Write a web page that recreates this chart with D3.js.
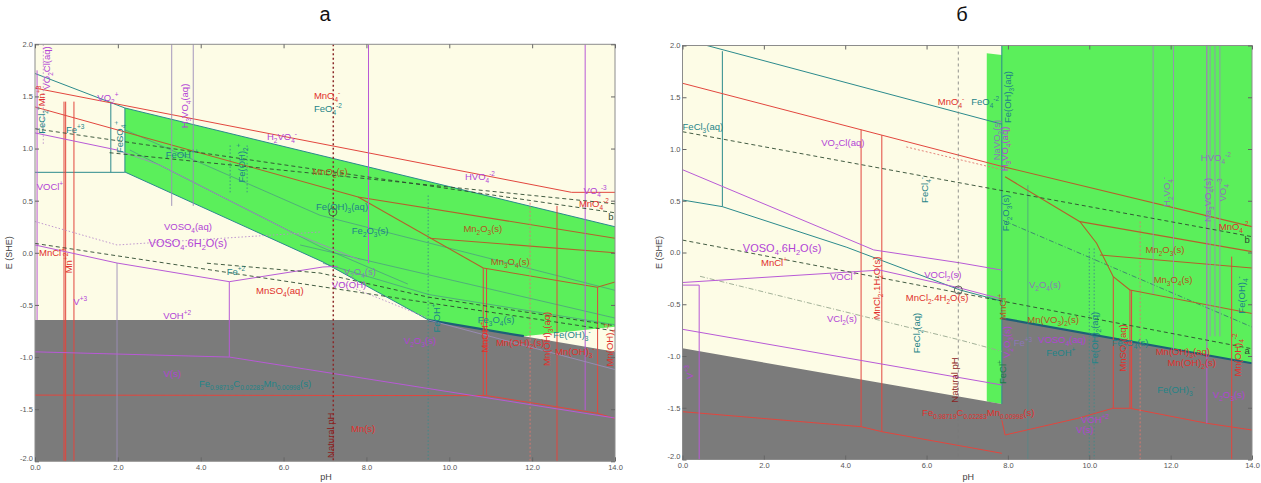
<!DOCTYPE html>
<html><head><meta charset="utf-8">
<script src="https://cdn.jsdelivr.net/npm/d3@7"></script>
<style>
body{margin:0;background:#fff}
svg text{font-family:"Liberation Sans",Arial,sans-serif}
</style>
</head><body>
<svg id="chart" width="1261" height="483"></svg>
<script>
// ---- axes ----
const phTicks = [0, 2, 4, 6, 8, 10, 12, 14];
const eTicks = [2, 1.5, 1, 0.5, 0, -0.5, -1, -1.5, -2];
const panelTitles = ["а", "б"];
const axisNames = {x: "pH", y: "E (SHE)"};

// ---- panel а : stability fields (pH, E) ----
const fieldsA = [
  {kind: "green", pts: [[2.17,1.389],[14,0.25],[14,-0.71],[11.8,-0.80],[9.5,-0.645],[6.95,-0.088],[2.17,0.775]]},
  {kind: "gray",  pts: [[0,-0.645],[9.5,-0.645],[11.8,-0.80],[14,-0.95],[14,-2],[0,-2]]}
];
const linesA = [
  {s:"Fe", p:[[0,1.72],[2.17,1.389],[14,0.25]]},
  {s:"Fe", p:[[0,0.772],[2.17,0.772]]},
  {s:"Fe", p:[[1.83,1.45],[1.83,0.772]]},
  {s:"Fe", p:[[2.17,1.389],[2.17,0.775]]},
  {s:"Fe", p:[[2.17,0.775],[6.95,-0.088],[9.5,-0.645]]},
  {s:"Feg", p:[[6.4,0.075],[14,-0.626]]},
  {s:"Feg", p:[[6.95,-0.10],[9.5,-0.40],[14,-0.69]]},
  {s:"Feg", p:[[2.17,1.18],[6.88,0.36],[14,-0.36]]},
  {s:"Feg", p:[[2.29,0.986],[6.88,0.06],[9.0,-0.30]]},
  {s:"bound", p:[[9.5,-0.645],[11.8,-0.80]]},
  {s:"Fed", p:[[4.71,1.03],[4.71,0.58]]},
  {s:"Fed", p:[[5.12,1.03],[5.12,0.58]]},
  {s:"Fed", p:[[9.49,0.55],[9.49,-2]]},
  {s:"Mn", p:[[0,1.58],[12.95,0.58],[14,0.58]]},
  {s:"Mn", p:[[0,1.399],[2.17,1.159]]},
  {s:"MnOx", p:[[2.17,1.159],[7.8,0.535],[14,0.14]]},
  {s:"MnOx", p:[[7.8,0.535],[10.82,-0.146]]},
  {s:"MnOx", p:[[10.82,-0.146],[13.57,-0.33],[14,-0.28]]},
  {s:"MnOx", p:[[9.53,0.14],[14,0.0]]},
  {s:"Mn", p:[[10.82,-0.146],[10.82,-1.37]]},
  {s:"Mn", p:[[10.9,-0.15],[10.9,-1.37]]},
  {s:"Mn", p:[[0,-1.365],[10.9,-1.37],[13.58,-1.54],[14,-1.59]]},
  {s:"Mn", p:[[0.70,1.45],[0.70,-2]]},
  {s:"Mn", p:[[0.74,1.45],[0.74,-2]]},
  {s:"Mn", p:[[0.94,1.45],[0.94,-2]]},
  {s:"Mnd", p:[[11.95,0.48],[11.95,-2]]},
  {s:"Mn", p:[[12.6,0.45],[12.6,-2]]},
  {s:"Mn", p:[[13.58,-0.33],[13.58,-1.54]]},
  {s:"V", p:[[0.05,1.75],[0.05,-0.645]]},
  {s:"Vd", p:[[0.2,2],[0.2,1.03]]},
  {s:"V", p:[[0,1.15],[1.98,0.986]]},
  {s:"Vg", p:[[1.98,0.986],[3.02,0.84],[6.23,0.19],[7.85,-0.07]]},
  {s:"Vg", p:[[3.3,2],[3.3,0.45]]},
  {s:"Vg", p:[[3.82,2],[3.82,0.45]]},
  {s:"V", p:[[8.05,2],[8.05,-0.1]]},
  {s:"V", p:[[13.28,2],[13.28,-1.51]]},
  {s:"V", p:[[0,0.075],[1.98,-0.098],[4.69,-0.277],[6.95,-0.136],[7.3,-0.13]]},
  {s:"Vg", p:[[1.98,-0.098],[1.98,-2]]},
  {s:"V", p:[[4.69,-0.277],[4.69,-1.0]]},
  {s:"V", p:[[0,-0.95],[4.69,-1.0],[14,-1.585]]},
  {s:"Vd", p:[[0,0.30],[1.98,0.075],[6.9,0.2]]},
  {s:"Vg", p:[[9.5,-0.645],[14,-1.12]]},
  {s:"Vd", p:[[7.2,-0.26],[9.45,-0.62]]},
  {s:"water", p:[[0,1.19],[14,0.384]]},
  {s:"water", p:[[1.8,0.96],[14,0.47]]},
  {s:"water", p:[[0,0.09],[14,-0.75]]},
  {s:"water", p:[[4.15,-0.10],[6.88,-0.194],[9.49,-0.425],[14,-0.70]]},
  {s:"nat", p:[[7.2,2],[7.2,-2]]}
];
const labelsA = [
  {t:"MnO_{4}^{-}", s:"Mn", x:7.05, y:1.504},
  {t:"FeO_{4}^{-2}", s:"Fe", x:7.07, y:1.379},
  {t:"VO_{2}^{+}", s:"V", x:1.76, y:1.485},
  {t:"H_{3}VO_{4}(aq)", s:"V", x:3.62, y:1.408, r:1},
  {t:"VO_{2}Cl(aq)", s:"V", x:0.29, y:1.773, r:1},
  {t:"Mn^{+3}", s:"Mn", x:0.17, y:1.504, r:1},
  {t:"FeCl_{2}^{+}", s:"Fe", x:0.17, y:1.273, r:1},
  {t:"Fe^{+3}", s:"Fe", x:0.97, y:1.178},
  {t:"FeSO_{4}^{+}", s:"Fe", x:2.05, y:1.111, r:1},
  {t:"FeOH^{++}", s:"Fe", x:3.55, y:0.938},
  {t:"Fe(OH)_{2}^{+}", s:"Fe", x:5.0, y:0.861, r:1},
  {t:"H_{2}VO_{4}^{-}", s:"V", x:5.96, y:1.111},
  {t:"MnO_{2}(s)", s:"MnOx", x:7.12, y:0.775},
  {t:"Fe(OH)_{3}(aq)", s:"Fe", x:7.41, y:0.44},
  {t:"Fe_{2}O_{3}(s)", s:"Fe", x:8.09, y:0.209},
  {t:"Mn_{2}O_{3}(s)", s:"MnOx", x:10.81, y:0.228},
  {t:"HVO_{4}^{-2}", s:"V", x:10.74, y:0.727},
  {t:"VO_{4}^{-3}", s:"V", x:13.52, y:0.593},
  {t:"MnO_{4}^{-2}", s:"Mn", x:13.49, y:0.468},
  {t:"b", s:"water", x:13.9, y:0.35},
  {t:"Mn_{3}O_{4}(s)", s:"MnOx", x:11.47, y:-0.088},
  {t:"V_{2}O_{4}(s)", s:"Vg", x:7.84, y:-0.184},
  {t:"VO(OH)", s:"V", x:7.58, y:-0.309},
  {t:"Fe^{+2}", s:"Fe", x:4.85, y:-0.184},
  {t:"MnSO_{4}(aq)", s:"Mn", x:5.91, y:-0.366},
  {t:"VOSO_{4}(aq)", s:"V", x:3.69, y:0.247},
  {t:"VOSO_{4}.6H_{2}O(s)", s:"V", x:3.69, y:0.094},
  {t:"VOCl^{+}", s:"V", x:0.36, y:0.631},
  {t:"MnCl^{+}", s:"Mn", x:0.41, y:-0.002},
  {t:"Mn^{+2}", s:"Mn", x:0.82, y:-0.098, r:1},
  {t:"V^{+3}", s:"V", x:1.09, y:-0.47},
  {t:"VOH^{+2}", s:"V", x:3.43, y:-0.606},
  {t:"V(s)", s:"V", x:3.31, y:-1.16},
  {t:"Fe_{0.98719}C_{0.02283}Mn_{0.00998}(s)", s:"Fe", x:5.31, y:-1.257},
  {t:"Mn(s)", s:"Mn", x:7.92, y:-1.69},
  {t:"Natural pH", s:"nat", x:7.13, y:-1.75, r:1},
  {t:"FeOH^{+}", s:"Fe", x:9.70, y:-0.625, r:1},
  {t:"V_{2}O_{3}(s)", s:"V", x:9.29, y:-0.846},
  {t:"Fe_{3}O_{4}(s)", s:"Fe", x:11.13, y:-0.644},
  {t:"Mn(OH)_{2}(s)", s:"Mn", x:11.71, y:-0.864},
  {t:"MnOH^{+}", s:"Mn", x:10.86, y:-0.81, r:1},
  {t:"Mn(OH)_{3}(aq)", s:"Mn", x:12.36, y:-0.826, r:1},
  {t:"Fe(OH)_{3}^{-}", s:"Fe", x:12.96, y:-0.787},
  {t:"Mn(OH)_{3}^{-}", s:"Mn", x:13.03, y:-0.95},
  {t:"Mn(OH)_{4}^{-2}", s:"Mn", x:13.88, y:-0.883, r:1}
];
const markA = [[7.19, 0.391]];

// ---- panel б ----
const fieldsB = [
  {kind: "green", pts: [[7.48,1.925],[7.85,1.908],[7.85,2],[14,2],[14,-1.07],[7.85,-0.636],[7.85,-1.464],[7.48,-1.44]]},
  {kind: "gray",  pts: [[0,-0.926],[7.85,-1.464],[7.85,-0.636],[14,-1.07],[14,-2],[0,-2]]}
];
const linesB = [
  {s:"Fe", p:[[0.6,2],[7.85,1.24]]},
  {s:"Fe", p:[[0.98,1.945],[0.98,0.443]]},
  {s:"Fe", p:[[0,0.507],[0.98,0.443],[4.04,0.05],[6.82,-0.362],[7.85,-0.47]]},
  {s:"Fe", p:[[7.85,2],[7.85,-1.464]]},
  {s:"bound", p:[[7.85,-0.636],[14,-1.07]]},
  {s:"Fedd", p:[[7.88,0.31],[14,-0.72]]},
  {s:"Fed", p:[[10.0,0.04],[10.0,-2]]},
  {s:"Fed", p:[[10.12,0.04],[10.12,-2]]},
  {s:"Gdd", p:[[0.43,-0.23],[6.82,-0.845],[7.85,-0.955]]},
  {s:"Feg", p:[[8.49,0.65],[8.49,-2]]},
  {s:"Mn", p:[[0,1.635],[7.85,0.832]]},
  {s:"MnOx", p:[[7.85,0.832],[14,0.25]]},
  {s:"Mnd", p:[[5.5,1.02],[7.85,0.80]]},
  {s:"Mn", p:[[4.39,1.186],[4.39,-1.683]]},
  {s:"Mn", p:[[4.9,1.134],[4.9,-1.731]]},
  {s:"Mn", p:[[0,-1.538],[4.39,-1.683],[4.9,-1.731],[7.85,-1.94]]},
  {s:"Mn", p:[[7.85,-1.62],[7.93,-1.763],[9.72,-1.602],[10.58,-1.505],[11.0,-1.505],[12.89,-1.65],[14,-1.715]]},
  {s:"Mn", p:[[10.59,-0.234],[10.59,-1.505]]},
  {s:"Mn", p:[[11.0,-0.362],[11.0,-1.505]]},
  {s:"Mn", p:[[11.04,-0.365],[11.04,-1.505]]},
  {s:"Mn", p:[[13.5,-0.04],[13.5,-2]]},
  {s:"Mnd", p:[[11.25,0.3],[11.25,-2]]},
  {s:"MnOx", p:[[7.93,0.732],[9.77,0.298],[10.18,0.089],[10.59,-0.234],[11.0,-0.362]]},
  {s:"MnOx", p:[[11.0,-0.362],[14,-0.59]]},
  {s:"MnOx", p:[[9.77,0.298],[14,0.008]]},
  {s:"MnOx", p:[[10.26,-0.024],[14,-0.15]]},
  {s:"V", p:[[0,0.80],[4.7,0.025],[6.82,-0.10],[7.85,-0.17]]},
  {s:"V", p:[[0,-0.29],[4.85,-0.17],[6.82,-0.343],[7.85,-0.45]]},
  {s:"V", p:[[0,-0.742],[7.85,-1.28]]},
  {s:"V", p:[[0,-0.315],[0.41,-0.315],[0.41,-2]]},
  {s:"Vg", p:[[11.57,2],[11.57,-0.4]]},
  {s:"Vg", p:[[12.07,2],[12.07,-0.95]]},
  {s:"V",  p:[[12.89,2],[12.89,-1.65]]},
  {s:"Vg", p:[[12.97,2],[12.97,-0.81]]},
  {s:"Vg", p:[[13.09,2],[13.09,-0.81]]},
  {s:"Vg", p:[[13.21,2],[13.21,-0.81]]},
  {s:"water", p:[[0,1.167],[14,0.153]]},
  {s:"water", p:[[0,0.12],[14,-0.93]]},
  {s:"natB", p:[[6.78,2],[6.78,-2]]}
];
const labelsB = [
  {t:"FeCl_{3}(aq)", s:"Fe", x:0.5, y:1.213},
  {t:"VO_{2}Cl(aq)", s:"V", x:3.94, y:1.058},
  {t:"FeCl_{4}^{-}", s:"Fe", x:5.96, y:0.604, r:1},
  {t:"MnO_{4}^{-}", s:"Mn", x:6.6, y:1.454},
  {t:"FeO_{4}^{-2}", s:"Fe", x:7.44, y:1.454},
  {t:"Fe(OH)_{3}(aq)", s:"Fe", x:8.0, y:1.502, r:1},
  {t:"NaVO_{3}(s)", s:"Vg", x:7.73, y:1.087, r:1},
  {t:"H_{3}VO_{4}(aq)", s:"V", x:7.92, y:1.0, r:1},
  {t:"Fe_{2}O_{3}(s)", s:"Fe", x:7.95, y:0.382, r:1},
  {t:"H_{2}VO_{4}^{-}", s:"Vg", x:11.91, y:0.585, r:1},
  {t:"HVO_{4}^{-2}", s:"Vg", x:13.11, y:0.913},
  {t:"Na_{3}VO_{4}(s)", s:"Vg", x:12.92, y:0.507, r:1},
  {t:"VO_{4}^{-3}", s:"Vg", x:13.29, y:0.604, r:1},
  {t:"MnO_{4}^{-2}", s:"Mn", x:13.55, y:0.246},
  {t:"b", s:"water", x:13.88, y:0.12},
  {t:"a", s:"water", x:13.88, y:-0.95},
  {t:"V_{2}O_{4}(s)", s:"Vg", x:8.91, y:-0.314},
  {t:"Mn_{2}O_{3}(s)", s:"MnOx", x:11.86, y:0.024},
  {t:"Mn_{3}O_{4}(s)", s:"MnOx", x:12.06, y:-0.266},
  {t:"Mn(VO_{3})_{2}(s)", s:"MnOx", x:9.11, y:-0.652},
  {t:"MnCl^{+}", s:"MnOx", x:7.88, y:-0.527, r:1},
  {t:"V_{2}O_{3}(s)", s:"V", x:7.98, y:-0.865, r:1},
  {t:"FeCl^{+}", s:"FeG", x:7.88, y:-1.155, r:1},
  {t:"Fe^{+3}", s:"Vg", x:8.37, y:-0.874},
  {t:"VOSO_{4}(aq)", s:"V", x:9.33, y:-0.845},
  {t:"FeOH^{+}", s:"Fe", x:9.3, y:-0.97},
  {t:"Fe(OH)_{2}(aq)", s:"Fe", x:10.14, y:-0.826, r:1},
  {t:"Fe_{3}O_{4}(s)", s:"Fe", x:11.0, y:-0.874},
  {t:"MnSO_{4}(aq)", s:"Mn", x:10.83, y:-0.923, r:1},
  {t:"Mn(OH)_{3}(aq)", s:"Mn", x:12.3, y:-0.961},
  {t:"Mn(OH)_{2}(s)", s:"Mn", x:12.52, y:-1.068},
  {t:"Mn(OH)_{4}^{-2}", s:"Mn", x:13.65, y:-0.99, r:1},
  {t:"Fe(OH)_{4}^{-}", s:"Fe", x:13.75, y:-0.41, r:1},
  {t:"Fe(OH)_{3}^{-}", s:"Fe", x:12.13, y:-1.329},
  {t:"V_{2}O_{3}(s)", s:"V", x:13.43, y:-1.377},
  {t:"VOH^{+2}", s:"V", x:10.14, y:-1.618},
  {t:"V(s)", s:"V", x:9.89, y:-1.715},
  {t:"Fe_{0.98719}C_{0.02283}Mn_{0.00998}(s)", s:"Mn", x:7.27, y:-1.551},
  {t:"Natural pH", s:"nat", x:6.68, y:-1.232, r:1},
  {t:"MnCl_{2}.4H_{2}O(s)", s:"Mn", x:6.26, y:-0.44},
  {t:"VOCl_{2}(s)", s:"V", x:6.4, y:-0.217},
  {t:"VOCl^{+}", s:"V", x:3.95, y:-0.237},
  {t:"MnCl_{2}.1H_{2}O(s)", s:"Mn", x:4.78, y:-0.343, r:1},
  {t:"VOSO_{4}.6H_{2}O(s)", s:"V", x:2.45, y:0.043},
  {t:"MnCl^{+}", s:"Mn", x:2.25, y:-0.101},
  {t:"VCl_{2}(s)", s:"V", x:3.92, y:-0.643},
  {t:"FeCl_{2}(aq)", s:"Fe", x:5.76, y:-0.778, r:1},
  {t:"V^{+3}", s:"V", x:0.18, y:-1.155, r:1}
];
const markB = [[6.78, -0.362]];

// ---- drawing styles ----
const FIELD_FILL = {green: "#5bef5b", gray: "#7b7b7b"};
const PAPER = "#fdfce6";
const LINE_STYLE = {
  Fe:    {c:"#2b8a8c", w:1},
  Feg:   {c:"#4a8a8a", w:0.8, o:0.8},
  Fed:   {c:"#3d8a8a", w:0.9, d:"1.5,2"},
  Fedd:  {c:"#3a7f70", w:0.9, d:"5,2,1,2"},
  bound: {c:"#1d6078", w:2.2},
  Mn:    {c:"#e2463e", w:1},
  Mnd:   {c:"#e0776e", w:0.9, d:"2,2"},
  MnOx:  {c:"#b4612c", w:1.1},
  V:     {c:"#b85ad6", w:1},
  Vg:    {c:"#9b8cb8", w:0.9},
  Vd:    {c:"#b98ccc", w:0.9, d:"1.5,2"},
  Gdd:   {c:"#98a890", w:0.9, d:"5,2,1,2"},
  water: {c:"#2e4a30", w:0.9, d:"4,3"},
  nat:   {c:"#8a2a2a", w:1.5, d:"2,2.5"},
  natB:  {c:"#777777", w:0.8, d:"3,3"}
};
const LABEL_COLOR = {
  Mn:"#e0302c", MnOx:"#b3561e", V:"#b244d6", Vg:"#8c76b8",
  Fe:"#1f8488", FeG:"#1d7a4a", nat:"#8a2222", water:"#2e4a30"
};
const BIG_LABELS = new Set(["VOSO_{4}.6H_{2}O(s)"]);

const svg = d3.select("#chart");

// text with _{sub} and ^{sup} runs
function richText(sel, str, fs) {
  const re = /(_|\^)\{([^}]*)\}/g;
  const parts = [];
  let last = 0, m;
  while ((m = re.exec(str))) {
    if (m.index > last) parts.push({t: str.slice(last, m.index), k: 0});
    parts.push({t: m[2], k: m[1] === "_" ? 1 : -1});
    last = re.lastIndex;
  }
  if (last < str.length) parts.push({t: str.slice(last), k: 0});
  let shift = 0;
  parts.forEach(p => {
    const target = p.k === 0 ? 0 : (p.k === 1 ? fs * 0.3 : -fs * 0.42);
    sel.append("tspan").attr("dy", target - shift)
      .attr("font-size", p.k ? fs * 0.68 : fs).text(p.t);
    shift = target;
  });
}

function drawPanel(idx, frame, fields, lines, labels, marks, titleX, eLabelX) {
  const x = d3.scaleLinear().domain([0, 14]).range([frame.x0, frame.x1]);
  const y = d3.scaleLinear().domain([-2, 2]).range([frame.y1, frame.y0]);
  const g = svg.append("g");
  const clipId = "clip" + idx;
  g.append("clipPath").attr("id", clipId).append("rect")
    .attr("x", frame.x0).attr("y", frame.y0)
    .attr("width", frame.x1 - frame.x0).attr("height", frame.y1 - frame.y0);

  g.append("rect").attr("x", frame.x0).attr("y", frame.y0)
    .attr("width", frame.x1 - frame.x0).attr("height", frame.y1 - frame.y0)
    .attr("fill", PAPER);

  const body = g.append("g").attr("clip-path", `url(#${clipId})`);
  const line = d3.line().x(d => x(d[0])).y(d => y(d[1]));

  body.selectAll("path.field").data(fields).join("path")
    .attr("class", "field")
    .attr("d", d => line(d.pts) + "Z")
    .attr("fill", d => FIELD_FILL[d.kind]);

  body.selectAll("path.bd").data(lines).join("path")
    .attr("class", "bd")
    .attr("d", d => line(d.p))
    .attr("fill", "none")
    .attr("stroke", d => LINE_STYLE[d.s].c)
    .attr("stroke-width", d => LINE_STYLE[d.s].w)
    .attr("stroke-opacity", d => LINE_STYLE[d.s].o || 1)
    .attr("stroke-dasharray", d => LINE_STYLE[d.s].d || null);

  body.selectAll("circle.mk").data(marks).join("circle")
    .attr("class", "mk")
    .attr("cx", d => x(d[0])).attr("cy", d => y(d[1])).attr("r", 4)
    .attr("fill", "none").attr("stroke", "#444").attr("stroke-width", 0.8);

  labels.forEach(l => {
    const fs = BIG_LABELS.has(l.t) ? 11 : 9.5;
    const t = body.append("text")
      .attr("text-anchor", "middle")
      .attr("fill", LABEL_COLOR[l.s])
      .attr("font-size", fs);
    const px = x(l.x), py = y(l.y);
    if (l.r) t.attr("transform", `translate(${px + fs * 0.35},${py}) rotate(-90)`);
    else t.attr("transform", `translate(${px},${py + fs * 0.35})`);
    richText(t, l.t, fs);
  });

  // frame and ticks
  g.append("rect").attr("x", frame.x0).attr("y", frame.y0)
    .attr("width", frame.x1 - frame.x0).attr("height", frame.y1 - frame.y0)
    .attr("fill", "none").attr("stroke", "#8c8c8c").attr("stroke-width", 1);

  const fmt = d => d.toFixed(1);
  const styleAxis = a => {
    a.select(".domain").remove();
    a.selectAll("line").attr("stroke", "#666");
    a.selectAll("text").attr("font-size", 7.5).attr("fill", "#555")
      .attr("font-family", "Liberation Sans, Arial, sans-serif");
  };
  g.append("g").attr("transform", `translate(0,${frame.y1})`)
    .call(d3.axisBottom(x).tickValues(phTicks).tickFormat(fmt).tickSize(-4).tickPadding(3))
    .call(styleAxis);
  g.append("g").attr("transform", `translate(0,${frame.y0})`)
    .call(d3.axisTop(x).tickValues(phTicks).tickFormat("").tickSize(-4))
    .call(styleAxis);
  const yAxis = g.append("g").attr("transform", `translate(${frame.x0},0)`)
    .call(d3.axisLeft(y).tickValues(eTicks).tickFormat(fmt).tickSize(-4).tickPadding(2))
    .call(styleAxis);
  // lift the lowest E label clear of the first pH label at the corner
  yAxis.selectAll(".tick").filter(d => d === -2).select("text").attr("dy", "-0.1em");

  g.append("text").attr("x", (frame.x0 + frame.x1) / 2 + 1).attr("y", 480)
    .attr("text-anchor", "middle").attr("font-size", 9).attr("fill", "#444")
    .text(axisNames.x);
  g.append("text")
    .attr("transform", `translate(${eLabelX},${(frame.y0 + frame.y1) / 2}) rotate(-90)`)
    .attr("text-anchor", "middle").attr("font-size", 9).attr("fill", "#444")
    .text(axisNames.y);

  g.append("g").attr("transform", `translate(${frame.x1},0)`)
    .call(d3.axisRight(y).tickValues(eTicks).tickFormat("").tickSize(-4))
    .call(styleAxis);

  g.append("text").attr("x", titleX).attr("y", 21)
    .attr("text-anchor", "middle").attr("font-size", 20)
    .attr("font-family", "Liberation Serif, Times New Roman, serif")
    .attr("fill", "#111").text(panelTitles[idx]);
}

drawPanel(0, {x0: 35, x1: 615, y0: 44.3, y1: 461.3}, fieldsA, linesA, labelsA, markA, 325, 12);
drawPanel(1, {x0: 682.5, x1: 1252, y0: 45.5, y1: 459.5}, fieldsB, linesB, labelsB, markB, 962, 662);
</script>
</body></html>
